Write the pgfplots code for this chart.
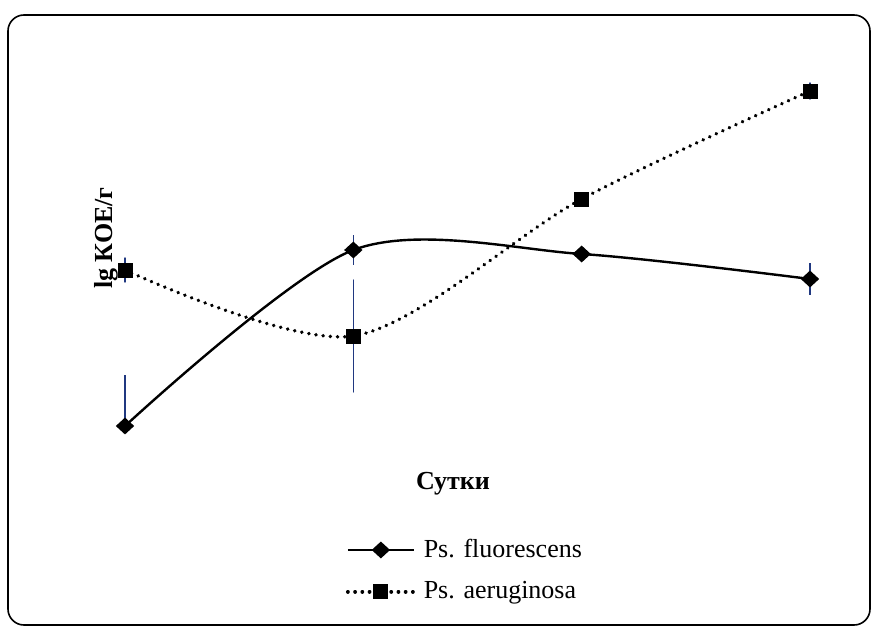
\documentclass[border=0pt]{standalone}
\usepackage{pgfplots}
\pgfplotsset{compat=1.18}
\usepackage{fontspec}
\setmainfont{Liberation Serif}
\definecolor{errblue}{RGB}{32,56,128}
\begin{document}
\fontsize{13pt}{15pt}\selectfont
\begin{tikzpicture}
\path (0,0) rectangle (439pt,316.5pt);
\draw[line width=0.8pt, rounded corners=8pt] (4pt,4pt) rectangle (435pt,309pt);
\node[rotate=90, font=\bfseries] at (53pt,197.5pt) {lg КОЕ/г};
\node[font=\bfseries] at (226.5pt,74.5pt) {Сутки};
\begin{axis}[
  at={(62.5pt,16.5pt)}, anchor=south west,
  scale only axis, width=342.5pt, height=280pt,
  xmin=1, xmax=4, ymin=0.33, ymax=5.93,
  axis lines=none, clip=false,
  legend cell align=left,
  legend style={draw=none, fill=none, at={(rel axis cs:0.322,0.117)}, anchor=north west,
    font=\fontsize{13pt}{15pt}\selectfont, row sep=6pt, inner sep=0pt,
    /tikz/every even column/.style={column sep=0pt},
    nodes={inner xsep=4pt}},
  legend image code/.code={\draw[mark repeat=2,mark phase=2,#1] plot coordinates {(0pt,0pt) (16.5pt,0pt) (33pt,0pt)};},
  error bars/error bar style={errblue, line width=0.7pt, solid},
  error bars/error mark=none,
]
\addplot[black, line width=1.2pt, smooth, mark=diamond*, mark size=3.4pt, mark options={solid, xscale=1.45},
  error bars/.cd, y dir=both, y explicit]
  coordinates {
  (1,2.07) += (0,0.51) -= (0,0)
  (2,3.83) +- (0,0.15)
  (3,3.79) +- (0,0)
  (4,3.54) +- (0,0.16)
  };
\addlegendentry{Ps. fluorescens}
\addplot[black, line width=1.9pt, smooth, dash pattern=on 0.01pt off 3.6pt, line cap=round,
  mark=square*, mark size=3.5pt, mark options={solid, line width=0.4pt},
  error bars/.cd, y dir=both, y explicit]
  coordinates {
  (1,3.63) +- (0,0.12)
  (2,2.97) +- (0,0.56)
  (3,4.34) +- (0,0)
  (4,5.42) +- (0,0.08)
  };
\addlegendentry{Ps. aeruginosa}
\end{axis}
\end{tikzpicture}
\end{document}
